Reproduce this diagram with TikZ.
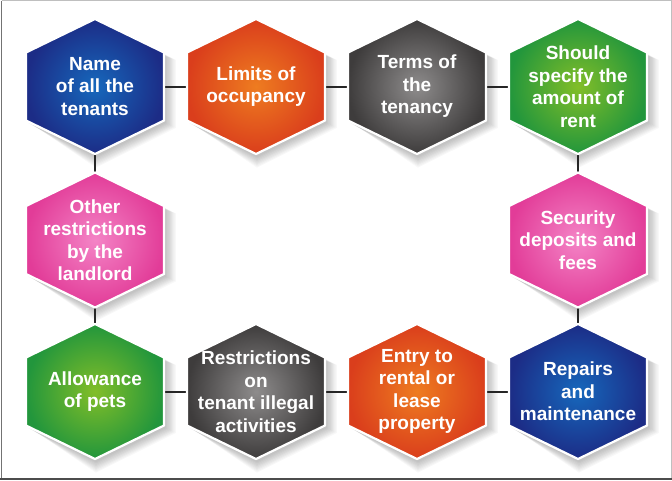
\documentclass[tikz,border=0pt]{standalone}
\usepackage{fontspec}
\setmainfont{Liberation Sans}
\definecolor{blueIn}{RGB}{22,104,188}
\definecolor{blueOut}{RGB}{28,44,134}
\definecolor{orIn}{RGB}{238,124,32}
\definecolor{orOut}{RGB}{218,62,28}
\definecolor{grIn}{RGB}{142,140,140}
\definecolor{grOut}{RGB}{62,60,60}
\definecolor{gnIn}{RGB}{130,190,40}
\definecolor{gnOut}{RGB}{34,150,60}
\definecolor{pkIn}{RGB}{244,132,198}
\definecolor{pkOut}{RGB}{226,60,152}
\pgfdeclarelayer{bglayer}
\pgfdeclarelayer{shadowlayer}
\pgfdeclarelayer{filllayer}
\pgfsetlayers{bglayer,shadowlayer,filllayer,main}
\tikzset{
  hexlabel/.style={rectangle, minimum width=138pt, minimum height=135pt, inner sep=0pt,
    align=center, text=white, font=\bfseries\fontsize{19}{22.5}\selectfont},
  conn/.style={draw=black!85, line width=2pt},
}
\newcommand\hexpth[5]{(#1,#2-#4) -- (#1+#3,#2-#5) -- (#1+#3,#2+#5) -- (#1,#2+#4) -- (#1-#3,#2+#5) -- (#1-#3,#2-#5) -- cycle}
\newcommand\hexnode[6]{%
  \node[hexlabel] (#1) at (#2,#3) {#6};
  \begin{pgfonlayer}{shadowlayer}
    \foreach \k in {1,...,9}{\fill[black, opacity=0.028] \hexpth{#2+1}{#3+2}{69+1.2*\k}{67.5+1.3*\k}{34+0.6*\k};}
  \end{pgfonlayer}
  \begin{pgfonlayer}{filllayer}
    \shade[inner color=#4, outer color=#5] \hexpth{#2}{#3}{69}{67.5}{34};
    \draw[white, line width=2.2pt, line join=miter] \hexpth{#2}{#3}{69}{67.5}{34};
  \end{pgfonlayer}
}
\begin{document}
\begin{tikzpicture}[x=1pt,y=-1pt]
\useasboundingbox (0,0) rectangle (672,480);
\begin{pgfonlayer}{bglayer}
\fill[white] (0,0) rectangle (672,480);
\draw[black!25, line width=1pt] (1.5,0.5) -- (671.5,0.5) -- (671.5,478);
\draw[black!55, line width=1.2pt] (1.5,0.5) -- (1.5,478.5);
\draw[black!70, line width=1.6pt] (0,478.8) -- (672,478.8);
\end{pgfonlayer}

\hexnode{n1}{95}{86.5}{blueIn}{blueOut}{Name\\of all the\\tenants}
\hexnode{n2}{256}{86.5}{orIn}{orOut}{Limits of\\occupancy}
\hexnode{n3}{417}{86.5}{grIn}{grOut}{Terms of\\the\\tenancy}
\hexnode{n4}{578}{86.5}{gnIn}{gnOut}{Should\\specify the\\amount of\\rent}
\hexnode{n5}{95}{240}{pkIn}{pkOut}{Other\\restrictions\\by the\\landlord}
\hexnode{n6}{578}{240}{pkIn}{pkOut}{Security\\deposits and\\fees}
\hexnode{n7}{95}{391.5}{gnIn}{gnOut}{Allowance\\of pets}
\hexnode{n8}{256}{391.5}{grIn}{grOut}{Restrictions\\on\\tenant illegal\\activities}
\hexnode{n9}{417}{391.5}{orIn}{orOut}{Entry to\\rental or\\lease\\property}
\hexnode{n10}{578}{391.5}{blueIn}{blueOut}{Repairs\\and\\maintenance}

\begin{pgfonlayer}{shadowlayer}
\draw[conn] (n1.east) -- (n2.west);
\draw[conn] (n2.east) -- (n3.west);
\draw[conn] (n3.east) -- (n4.west);
\draw[conn] (n4.south) -- (n6.north);
\draw[conn] (n6.south) -- (n10.north);
\draw[conn] (n10.west) -- (n9.east);
\draw[conn] (n9.west) -- (n8.east);
\draw[conn] (n8.west) -- (n7.east);
\draw[conn] (n7.north) -- (n5.south);
\draw[conn] (n5.north) -- (n1.south);
\end{pgfonlayer}
\end{tikzpicture}
\end{document}
